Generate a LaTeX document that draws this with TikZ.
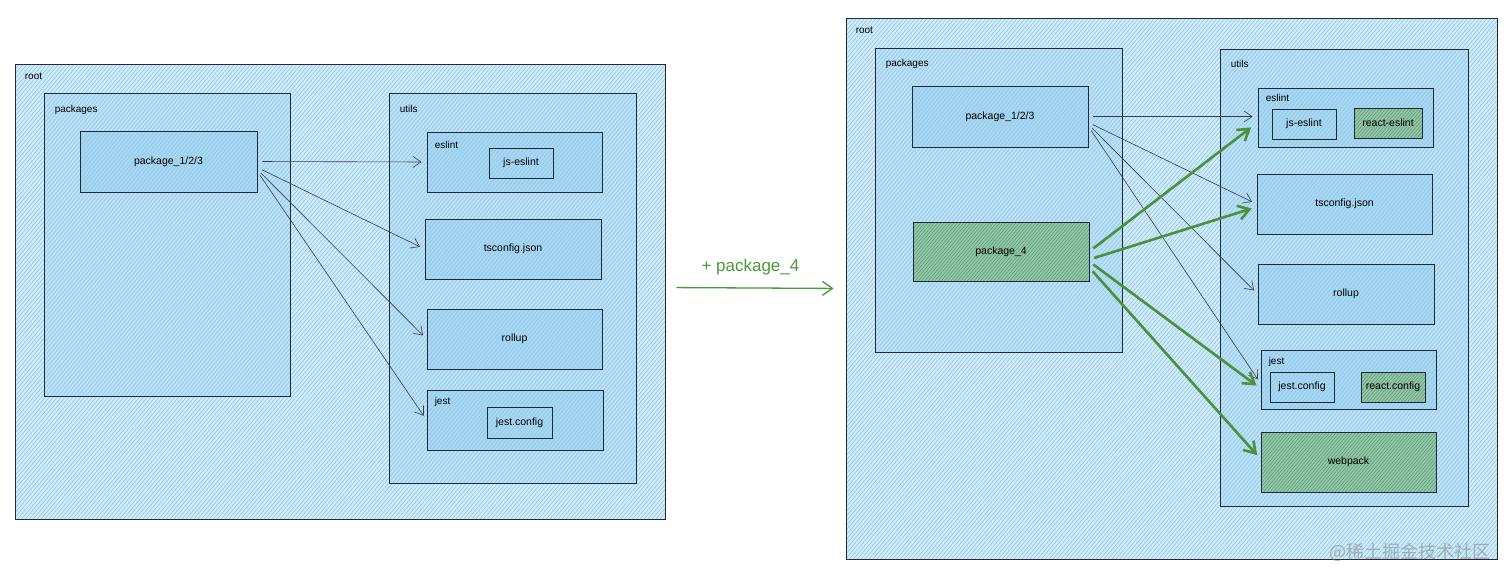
\documentclass[tikz,border=0pt]{standalone}
\usepackage{fontspec}
\setmainfont{Liberation Sans}
\newfontfamily\cjkfont{Noto Sans CJK SC}
\usepackage{tikz}
\usetikzlibrary{arrows.meta,positioning,patterns.meta}
\definecolor{skline}{HTML}{1F2A36}
\definecolor{skroot}{HTML}{D3EBF9}
\definecolor{skgroup}{HTML}{BCE0F5}
\definecolor{skitem}{HTML}{A9D7F2}
\definecolor{skhatch}{HTML}{8DC8EC}
\definecolor{sknewfill}{HTML}{93C6A8}
\definecolor{sknewhatch}{HTML}{5A9A74}
\definecolor{sknew}{HTML}{4E8F3C}
\definecolor{skadd}{HTML}{4A9A3C}

\begin{document}
\begin{tikzpicture}[
  x=1pt, y=-1pt,
  frame/.style={rectangle, draw=skline, line width=0.9pt, inner sep=0pt,
                preaction={fill=#1},
                pattern={Lines[angle=50,distance=3pt,line width=0.6pt]},
                pattern color=skhatch},
  rootbox/.style={frame=skroot},
  groupbox/.style={frame=skgroup},
  itembox/.style={frame=skitem, font=\fontsize{10.5}{12}\selectfont},
  newbox/.style={rectangle, draw=skline, line width=0.9pt, inner sep=0pt,
                 preaction={fill=sknewfill},
                 pattern={Lines[angle=50,distance=2.5pt,line width=0.5pt]},
                 pattern color=sknewhatch, font=\fontsize{10.5}{12}\selectfont},
  tag/.style={inner sep=1pt, font=\fontsize{10}{11}\selectfont},
  link/.style={-{Straight Barb[length=8pt,width=11pt]}, draw=skline!90,
               line width=0.6pt, shorten <=5pt, shorten >=5pt},
  newlink/.style={-{Straight Barb[length=11pt,width=14pt]}, draw=sknew,
                  line width=2.6pt, shorten <=5pt, shorten >=5pt},
  addarrow/.style={-{Straight Barb[length=10pt,width=14pt]}, draw=skadd,
                   line width=1.3pt}
]
\useasboundingbox (0,0) rectangle (1512,582);

% before
\node[rootbox, minimum width=650pt, minimum height=455pt] (rootL) at (340,291.5) {};
\node[tag, below right=8pt and 9pt of rootL.north west] (rootLtag) {root};
\node[groupbox, minimum width=246pt, minimum height=303pt] (pkgsL) at (167,244.5) {};
\node[tag, below right=11pt and 10pt of pkgsL.north west] (pkgsLtag) {packages};
\node[itembox, minimum width=177pt, minimum height=61pt] (pkgL) at (168.5,161.5) {package\_1/2/3};
\node[groupbox, minimum width=247pt, minimum height=390pt] (utilsL) at (512.5,288) {};
\node[tag, below right=11pt and 10pt of utilsL.north west] (utilsLtag) {utils};
\node[itembox, minimum width=175pt, minimum height=60pt] (eslL) at (514.5,162) {};
\node[tag, below right=8pt and 7pt of eslL.north west] (eslLtag) {eslint};
\node[itembox, minimum width=64pt, minimum height=30pt] (jsL) at (521,163) {js-eslint};
\node[itembox, minimum width=176pt, minimum height=60pt] (tsL) at (513,249) {tsconfig.json};
\node[itembox, minimum width=175pt, minimum height=60pt] (rollL) at (514.5,339) {rollup};
\node[itembox, minimum width=176pt, minimum height=60pt] (jestL) at (515,420) {};
\node[tag, below right=6pt and 7pt of jestL.north west] (jestLtag) {jest};
\node[itembox, minimum width=65pt, minimum height=31pt] (jcfgL) at (519.5,422.5) {jest.config};

\draw[link] (pkgL.east) -- (eslL.west);
\draw[link] ([yshift=-6pt]pkgL.east) -- (tsL.west);
\draw[link] ([yshift=-8pt]pkgL.east) -- (rollL.west);
\draw[link] ([yshift=-10pt]pkgL.east) -- (jestL.west);

% after
\node[rootbox, minimum width=651pt, minimum height=541pt] (rootR) at (1171.5,288.5) {};
\node[tag, below right=8pt and 9pt of rootR.north west] (rootRtag) {root};
\node[groupbox, minimum width=247pt, minimum height=304pt] (pkgsR) at (998.5,200) {};
\node[tag, below right=10pt and 10pt of pkgsR.north west] (pkgsRtag) {packages};
\node[itembox, minimum width=176pt, minimum height=61pt] (pkgR) at (1000,116.5) {package\_1/2/3};
\node[newbox, minimum width=176pt, minimum height=59pt] (p4R) at (1001,251.5) {package\_4};
\node[groupbox, minimum width=248pt, minimum height=457pt] (utilsR) at (1344,277.5) {};
\node[tag, below right=10pt and 10pt of utilsR.north west] (utilsRtag) {utils};
\node[itembox, minimum width=175pt, minimum height=59pt] (eslR) at (1345.5,117.5) {};
\node[tag, below right=5pt and 7pt of eslR.north west] (eslRtag) {eslint};
\node[itembox, minimum width=64pt, minimum height=30pt] (jsR) at (1304,124) {js-eslint};
\node[newbox, minimum width=68pt, minimum height=30pt] (reR) at (1388,123) {react-eslint};
\node[itembox, minimum width=175pt, minimum height=60pt] (tsR) at (1344.5,204) {tsconfig.json};
\node[itembox, minimum width=176pt, minimum height=60pt] (rollR) at (1346,294) {rollup};
\node[itembox, minimum width=175pt, minimum height=59pt] (jestR) at (1348.5,379.5) {};
\node[tag, below right=6pt and 7pt of jestR.north west] (jestRtag) {jest};
\node[itembox, minimum width=64pt, minimum height=30pt] (jcfgR) at (1302,387) {jest.config};
\node[newbox, minimum width=64pt, minimum height=30pt] (rcfgR) at (1393,387) {react.config};
\node[newbox, minimum width=175pt, minimum height=60pt] (webR) at (1348.5,462) {webpack};

\draw[link] (pkgR.east) -- ([yshift=1pt]eslR.west);
\draw[link] ([yshift=-6pt]pkgR.east) -- (tsR.west);
\draw[link] ([yshift=-8pt]pkgR.east) -- (rollR.west);
\draw[link] ([yshift=-10pt]pkgR.east) -- ([yshift=-4pt]jestR.west);

\draw[newlink, shorten >=8pt] (p4R.east) -- ([yshift=-5pt]eslR.west);
\draw[newlink] ([yshift=-8pt]p4R.east) -- ([yshift=-3pt]tsR.west);
\draw[newlink] ([yshift=-10pt]p4R.east) -- ([yshift=-9pt]jestR.west);
\draw[newlink] ([yshift=-16pt]p4R.east) -- ([yshift=3pt]webR.west);

% change
\draw[addarrow, shorten <=11pt, shorten >=12pt] ([yshift=4pt]rootL.east) -- (rootR.west)
  node[midway, above=9pt, text=skadd, font=\fontsize{17}{17}\selectfont, xshift=-5pt] (addtag) {+ package\_4};

\node[anchor=base east, text=gray, opacity=0.55, font=\cjkfont\fontsize{18}{18}\selectfont]
  (mark) at ([xshift=-3pt,yshift=1pt]rootR.south east) {@稀土掘金技术社区};
\end{tikzpicture}
\end{document}
